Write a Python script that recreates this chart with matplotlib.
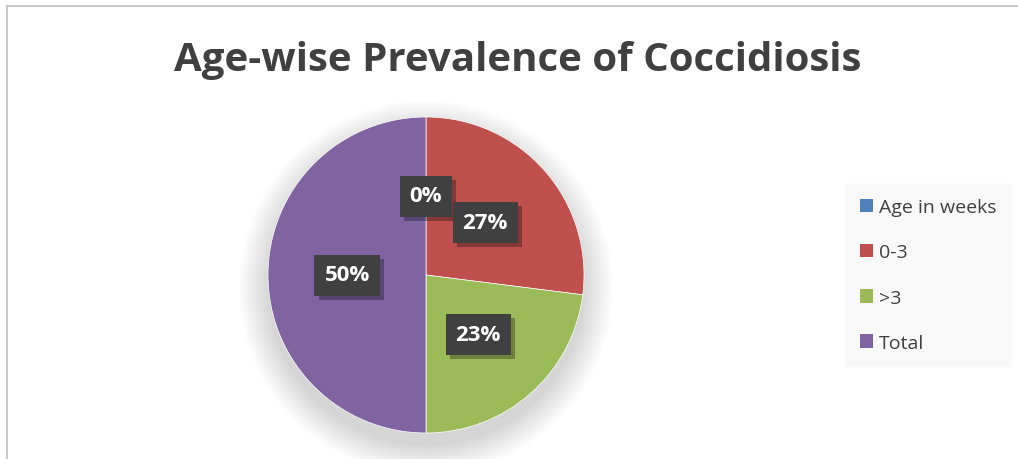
import numpy as np
import matplotlib.pyplot as plt
import matplotlib.patheffects as pe
from matplotlib.patches import Patch
from matplotlib.lines import Line2D

labels = ['Age in weeks', '0-3', '>3', 'Total']
values = [0, 27, 23, 50]
colors = ['#4F81BD', '#C0504D', '#9BBB59', '#8064A2']
pct_text = ['0%', '27%', '23%', '50%']

plt.rcParams['font.family'] = ['Open Sans', 'DejaVu Sans']

fig = plt.figure(figsize=(10.18, 4.6), dpi=100)
fig.patch.set_facecolor('white')

# chart border (top and left edges visible)
fig.add_artist(Line2D([7 / 1018, 1], [1 - 7 / 460, 1 - 7 / 460], color='#bfbfbf', lw=1.2))
fig.add_artist(Line2D([7 / 1018, 7 / 1018], [0, 1 - 7 / 460], color='#bfbfbf', lw=1.2))

fig.text(518 / 1018, 1 - 60 / 460, 'Age-wise Prevalence of Coccidiosis',
         ha='center', va='center', fontsize=29, fontweight='bold', color='#404040')

ax = fig.add_axes([(426 - 158) / 1018, (184 - 158) / 460, 316 / 1018, 316 / 460])

# soft shadow under the pie
for i in range(14):
    r = 1.0 + 0.014 * i
    ax.add_patch(plt.Circle((0, -0.08), r, color='black', alpha=0.010, lw=0,
                            zorder=0, clip_on=False))

wedges, _ = ax.pie(values, colors=colors, startangle=90, counterclock=False,
                   wedgeprops=dict(linewidth=0.5, edgecolor='white'))
for w in wedges:
    w.set_zorder(2)

ax.set_xlim(-1, 1)
ax.set_ylim(-1, 1)
ax.set_aspect('equal')
ax.axis('off')

total = sum(values)
start = 90.0
for v, txt in zip(values, pct_text):
    sweep = v / total * 360
    mid = np.deg2rad(start - sweep / 2)
    start -= sweep
    d = 0.5
    t = ax.text(d * np.cos(mid), d * np.sin(mid), txt, ha='center', va='center',
                fontsize=16, fontweight='bold', color='white', zorder=5,
                bbox=dict(boxstyle='square,pad=0.45', facecolor='#404040', edgecolor='none'))
    t.get_bbox_patch().set_path_effects([
        pe.SimplePatchShadow(offset=(3, -3), shadow_rgbFace='black', alpha=0.3),
        pe.Normal()])

handles = [Patch(facecolor=c, edgecolor='none') for c in colors]
leg = fig.legend(handles, labels, loc='center', bbox_to_anchor=(928 / 1018, 1 - 276 / 460),
                 frameon=True, fancybox=False, facecolor='#f8f8f8', edgecolor='#f8f8f8',
                 fontsize=14, labelcolor='#404040', handlelength=0.7, handleheight=0.7,
                 handletextpad=0.3, labelspacing=1.4, borderpad=0.75, framealpha=1)

fig.savefig('out.png', dpi=100)
